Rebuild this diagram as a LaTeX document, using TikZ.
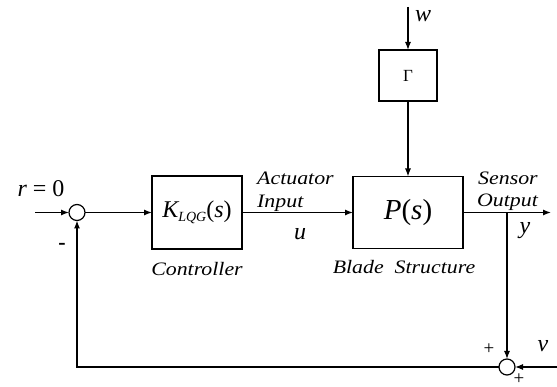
\documentclass[tikz,border=0pt]{standalone}
\usepackage{fontspec}
\usepackage{graphicx}
\newfontfamily\tms{Liberation Serif}
\usetikzlibrary{arrows.meta}
\newcommand\widelab[1]{\scalebox{1.15}[1]{#1}}
\tikzset{
  blk/.style={draw, line width=1.2pt, inner sep=0pt, outer sep=0pt},
  sumnode/.style={draw, circle, line width=1.2pt, minimum size=16pt, inner sep=0pt, outer sep=0pt},
  lab/.style={inner sep=0pt, font=\tms\itshape\fontsize{19}{21}\selectfont},
  var/.style={inner sep=0pt, font=\tms\itshape\fontsize{24}{26}\selectfont},
  sgn/.style={inner sep=0pt, font=\tms\fontsize{19}{21}\selectfont},
  conn/.style={line width=1.2pt, -{Latex[length=8pt,width=6pt]}}
}
\begin{document}
\begin{tikzpicture}[x=1pt,y=-1pt]
\useasboundingbox (0,0) rectangle (557,387);
% blocks
\node[sumnode] (c1) at (77,212.5) {};
\node[blk, minimum width=90pt, minimum height=73pt] (K) at (197,212.5)
  {\tms\fontsize{24}{26}\selectfont\itshape K\raisebox{-0.35ex}{\fontsize{14}{15}\selectfont LQG}\upshape(\itshape s\upshape)};
\node[blk, minimum width=110pt, minimum height=72pt] (P) at (408,212.5)
  {\tms\fontsize{29}{31}\selectfont\itshape P\upshape(\itshape s\upshape)};
\node[blk, minimum width=58pt, minimum height=51pt] (G) at (408,75.5)
  {\tms\fontsize{17}{19}\selectfont Γ};
\node[sumnode] (c2) at (507,367) {};
% free ends
\coordinate (rin) at (35,212.5);
\coordinate (wtop) at (408,7);
\coordinate (yout) at (551,212.5);
\coordinate (vin) at (557,367);
\coordinate (br) at (507,212.5);
% connectors
\draw[conn] (rin) -- (c1);
\draw[conn] (c1) -- (K);
\draw[conn] (K) -- (P);
\draw[conn] (wtop) -- (G);
\draw[conn] (G) -- (P);
\draw[conn] (P) -- (yout);
\draw[conn] (br) -- (c2);
\draw[conn] (vin) -- (c2);
\draw[conn] (c2) -| (c1);
% labels
\node[var, anchor=base] (rlab) at (41,197) {r\upshape\ = 0};
\node[sgn, font=\tms\bfseries\fontsize{22}{24}\selectfont] (minus) at (62,246) {-};
\node[lab, anchor=base west] (act) at (257,185) {\widelab{Actuator}};
\node[lab, anchor=base west] (inp) at (257,208) {\widelab{Input}};
\node[var, anchor=base] (ulab) at (300,240) {u};
\node[lab, anchor=base] (ctrl) at (197,276) {\widelab{Controller}};
\node[lab, anchor=base] (blade) at (404,274) {\widelab{Blade\ \ Structure}};
\node[lab, anchor=base west] (sens) at (478,185) {\widelab{Sensor}};
\node[lab, anchor=base west] (outp) at (477,207) {\widelab{Output}};
\node[var, anchor=base] (ylab) at (525,234) {y};
\node[var, anchor=base] (wlab) at (423,22) {w};
\node[var, anchor=base] (vlab) at (543,352) {v};
\node[sgn] (plus1) at (489,349) {+};
\node[sgn] (plus2) at (519,379) {+};
\end{tikzpicture}
\end{document}
